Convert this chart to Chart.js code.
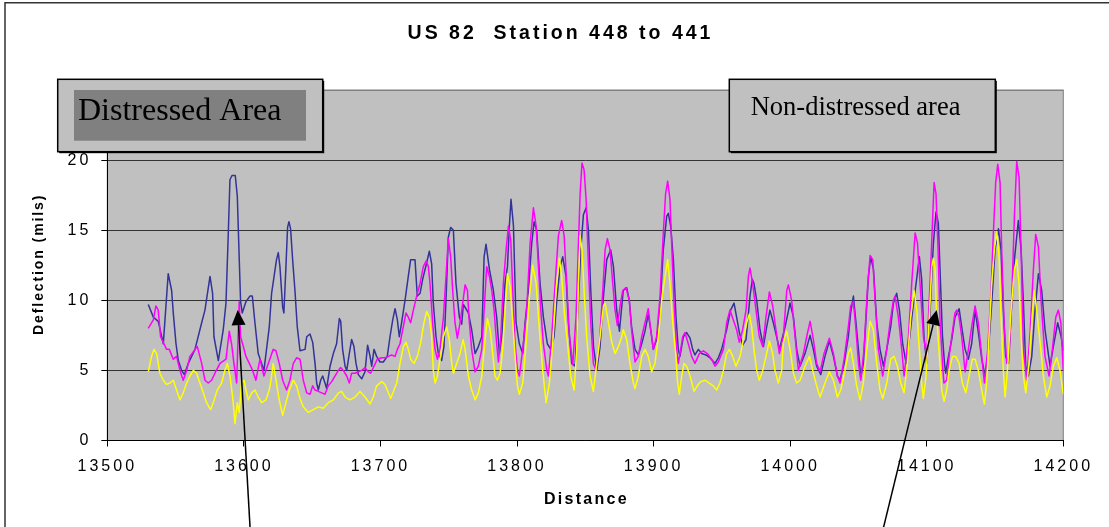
<!DOCTYPE html>
<html>
<head>
<meta charset="utf-8">
<title>US 82 Station 448 to 441</title>
<script src="https://cdn.jsdelivr.net/npm/chart.js@4.4.1/dist/chart.umd.min.js"></script>
<style>
  html, body { margin: 0; padding: 0; background: #fff; }
  canvas { display: block; }
</style>
</head>
<body>
<canvas id="deflection" width="1109" height="527"></canvas>
<script>
/* ===== READINGS: [distance, deflection (mils)] ===== */
const navyReadings = [
  [13530,9.7],[13533.7,8.8],[13537.3,8.5],[13541,6.9],[13544.6,11.9],[13547.1,10.7],[13548.3,9.1],[13550.3,6.9],
  [13552,5.7],[13554.4,5.0],[13556.4,4.7],[13559.3,5.5],[13564.2,6.5],[13569.1,8.4],[13571.5,9.3],[13575.2,11.7],
  [13577.1,10.5],[13578.1,7.4],[13581.3,5.7],[13584.9,7.9],[13586.9,9.8],[13588.6,14.8],[13589.8,18.6],[13591.3,18.9],
  [13593.7,18.9],[13595.2,17.4],[13596.4,13.6],[13597.6,9.9],[13598.8,9.1],[13601.5,9.9],[13604.4,10.3],[13606.2,10.3],
  [13608.1,8.4],[13610.5,6.2],[13613,5.5],[13614.7,5.0],[13618.6,8.1],[13620.3,10.5],[13623.9,12.9],[13625.2,13.4],
  [13626.4,12.4],[13628.4,9.5],[13629.3,9.1],[13630.8,12.4],[13632,15.2],[13633,15.6],[13634.2,15.1],[13635.7,12.9],
  [13637.4,10.7],[13639.1,8.1],[13641.1,6.4],[13644.8,6.5],[13646,7.4],[13648.4,7.6],[13650.4,7.0],[13652.1,5.5],
  [13653.3,4.1],[13654.5,3.6],[13656.2,4.3],[13657.7,4.6],[13659.4,4.1],[13660.6,3.7],[13663.1,5.3],[13665.5,6.2],
  [13667.9,6.9],[13669.9,8.7],[13670.9,8.5],[13672.3,6.5],[13674.1,5.3],[13675.3,5.0],[13677.2,6.2],[13678.9,7.2],
  [13680.6,6.7],[13682.1,5.5],[13683.8,4.7],[13686.3,4.4],[13688.7,4.9],[13690.6,6.8],[13692.4,6.0],[13693.6,5.3],
  [13695.3,6.5],[13697.2,6.0],[13699.7,5.6],[13702.1,5.6],[13705,6.0],[13707,7.4],[13709,8.6],[13710.7,9.4],
  [13712.4,8.6],[13713.8,7.4],[13715.5,8.4],[13718,10.0],[13720.4,11.7],[13722.1,12.9],[13725.3,12.9],[13727,10.3],
  [13729,10.5],[13730.9,11.5],[13733.4,12.5],[13735.8,13.5],[13737.5,12.6],[13738.7,9.8],[13740.7,7.4],[13742.4,6.2],
  [13744.8,5.7],[13746.5,6.7],[13748,10.0],[13749.7,14.5],[13751.4,15.2],[13753.4,15.0],[13755.3,11.2],[13757.8,8.8],
  [13759.5,8.3],[13760.7,9.7],[13764.4,9.1],[13766.8,7.9],[13769.3,6.2],[13771.7,6.7],[13774.2,7.4],[13775.9,13.1],
  [13777.3,14.0],[13779.8,12.2],[13782.7,10.7],[13785.1,8.8],[13787.1,6.2],[13788.8,7.4],[13791.2,11.2],[13793,12.4],
  [13794.4,15.3],[13795.6,17.2],[13797.4,15.3],[13799.3,8.4],[13801.7,6.9],[13804.2,6.2],[13805.9,8.4],[13808.3,10.7],
  [13810.8,14.1],[13812.5,15.6],[13814.4,15.0],[13816.9,11.2],[13819.3,8.8],[13822.2,6.9],[13824.7,6.5],[13827.1,7.4],
  [13829.1,10.0],[13831.5,12.4],[13833.5,13.1],[13835.9,11.7],[13837.6,8.4],[13840.1,5.5],[13842.5,5.3],[13845,10.0],
  [13846.7,13.6],[13848.6,16.1],[13850.6,16.6],[13852.3,15.0],[13854,10.7],[13856,6.7],[13858.4,5.0],[13860.8,6.7],
  [13863.3,10.3],[13865.7,12.9],[13868.6,13.6],[13870.6,12.4],[13873,9.3],[13875,7.8],[13877.8,10.7],[13880.3,10.9],
  [13882.2,10.0],[13883.9,8.1],[13886.4,6.5],[13888.8,6.1],[13891.3,6.9],[13893.7,7.8],[13896.1,9.0],[13897.9,7.9],
  [13899.8,6.5],[13902.2,7.2],[13904.7,9.3],[13907.1,13.6],[13909.6,16.0],[13910.8,16.2],[13912.5,15.3],[13914.5,12.9],
  [13916.4,8.8],[13918.1,6.5],[13919.3,6.0],[13921.8,7.4],[13924.2,7.7],[13926.7,7.3],[13928.6,6.5],[13930.3,6.1],
  [13932.8,6.5],[13935.2,6.2],[13938.4,6.1],[13941.3,5.9],[13945,5.5],[13947.4,5.9],[13949.8,6.5],[13953.5,7.9],
  [13956.4,9.3],[13958.9,9.8],[13960.8,8.8],[13962.8,7.7],[13965.2,6.8],[13967.7,7.2],[13970.6,10.3],[13972.3,11.5],
  [13973.5,11.2],[13975.5,10.0],[13977.9,7.9],[13980.4,6.7],[13982.8,8.1],[13985.2,9.3],[13987.7,8.4],[13990.1,7.4],
  [13992.1,6.5],[13996.3,8.1],[13999.9,9.8],[14002.4,8.8],[14004.8,6.5],[14007.2,5.3],[14010.9,6.2],[14014.6,7.5],
  [14017,6.5],[14019.4,5.3],[14022.4,4.7],[14025.5,6.0],[14028.7,7.1],[14031.7,6.0],[14034.6,4.6],[14036.5,4.3],
  [14039.5,5.5],[14042.6,7.4],[14044.3,9.1],[14046.3,10.3],[14048.2,8.4],[14050,6.5],[14051.7,4.5],[14053.6,5.5],
  [14055.6,8.8],[14057.3,11.7],[14059,13.1],[14061,12.2],[14063.4,8.4],[14065.8,6.5],[14068.3,5.3],[14070.7,6.5],
  [14073.6,8.1],[14075.6,9.8],[14078,10.5],[14080,9.3],[14082.4,6.9],[14084.9,5.5],[14087.3,7.2],[14089.7,9.3],
  [14092.2,11.2],[14094.6,13.1],[14096.3,11.5],[14098,7.4],[14100,5.5],[14102.4,9.1],[14104.9,14.1],[14106.8,16.3],
  [14108.5,15.5],[14110,11.5],[14111.5,7.5],[14113,5.5],[14113.9,4.8],[14115.9,6.0],[14118.3,7.2],[14120.7,8.8],
  [14123.7,9.4],[14125.6,8.1],[14128.1,6.5],[14130.5,5.8],[14132.9,6.9],[14135.4,9.3],[14137.8,7.7],[14140.3,5.8],
  [14142.7,4.6],[14145.2,6.5],[14147.6,9.8],[14150,13.6],[14152.5,15.1],[14154.4,13.6],[14156.1,9.3],[14157.8,6.0],
  [14159.8,5.5],[14161.7,8.8],[14164.2,12.9],[14167.1,15.7],[14169.1,13.6],[14170.8,9.8],[14172.5,5.3],[14174.4,4.6],
  [14176.9,6.0],[14179.3,9.3],[14181.8,11.9],[14184.2,10.7],[14186.6,7.9],[14190.3,5.3],[14192.7,6.7],[14195.9,8.4],
  [14198.4,7.4],[14200,6.4]
];

const magentaReadings = [
  [13530,8.0],[13533.7,8.6],[13535.6,9.6],[13537.3,9.3],[13539,7.4],[13541.5,6.9],[13543.4,6.5],[13545.4,6.5],
  [13548.3,5.8],[13550.7,6.0],[13553.2,5.0],[13555.6,4.3],[13558.1,5.0],[13560.5,6.0],[13564.2,6.5],[13565.9,6.7],
  [13569.1,5.5],[13571.5,4.3],[13573.9,4.1],[13576.4,4.3],[13578.8,4.8],[13582.5,5.5],[13586.9,5.8],[13589.3,7.8],
  [13591,6.9],[13592.7,5.5],[13594.7,4.1],[13596.6,9.9],[13597.6,7.4],[13599.6,6.7],[13601.5,6.0],[13604,5.5],
  [13606.4,5.0],[13608.8,4.3],[13611.8,5.8],[13614.7,4.6],[13617.9,5.5],[13621.5,6.5],[13623.5,6.4],[13625.9,5.5],
  [13628.4,4.3],[13631.3,3.6],[13633.7,4.3],[13636.2,5.5],[13638.6,5.9],[13641.1,5.8],[13643.5,4.3],[13646,3.4],
  [13648.4,3.3],[13650.4,3.9],[13652.1,3.6],[13654.5,3.5],[13657,3.4],[13659.4,3.3],[13661.8,3.9],[13664.3,4.2],
  [13666.7,4.6],[13669.2,5.0],[13670.9,5.2],[13672.8,5.0],[13675.3,4.6],[13677.2,4.1],[13678.9,4.8],[13681.4,4.8],
  [13683.8,4.9],[13686.3,5.0],[13688.7,5.2],[13691.1,4.9],[13692.8,4.8],[13694.8,5.2],[13697.7,5.8],[13700.9,5.9],
  [13703.3,5.9],[13705.8,6.0],[13708.2,6.1],[13710.7,6.0],[13712.4,6.5],[13714.3,6.9],[13716.3,7.9],[13718.7,9.1],
  [13720.4,8.8],[13722.1,8.4],[13724.1,9.3],[13726.5,10.3],[13729,11.2],[13731.4,12.4],[13733.4,12.8],[13735.1,12.4],
  [13736.3,11.2],[13738.2,8.4],[13740,6.5],[13741.7,5.8],[13743.6,6.5],[13746.1,8.8],[13748,11.7],[13749.7,14.4],
  [13751.4,13.1],[13752.9,10.7],[13754.6,8.4],[13756.3,7.3],[13758.3,8.4],[13760.5,10.0],[13762,11.1],[13763.7,10.7],
  [13765.1,8.4],[13766.8,6.5],[13769.3,4.9],[13771.7,5.3],[13774.2,6.5],[13775.9,9.3],[13777.8,12.4],[13779.8,11.7],
  [13781.5,10.7],[13783.2,9.3],[13785.1,6.9],[13786.4,5.6],[13788.1,7.4],[13790,11.2],[13792,13.6],[13793.7,15.3],
  [13795.4,14.3],[13796.9,10.7],[13798.6,6.9],[13800.3,5.0],[13801.7,4.6],[13804.2,6.5],[13807.1,9.3],[13809.6,14.1],
  [13812,16.6],[13814,15.3],[13815.7,12.4],[13817.4,9.3],[13819.3,6.9],[13821.8,5.0],[13823,4.6],[13825.4,7.4],
  [13827.9,11.2],[13830.3,14.6],[13832.7,15.7],[13834.5,14.6],[13836.4,11.2],[13838.4,7.4],[13840.8,5.4],[13843.2,8.8],
  [13845,14.1],[13846.2,17.6],[13847.6,19.8],[13849.1,19.3],[13850.6,17.2],[13852.3,12.4],[13854,8.4],[13855.9,5.5],
  [13857.9,5.0],[13860.3,6.9],[13862.8,10.7],[13864.5,13.6],[13866.2,14.4],[13868.1,13.6],[13870.1,11.2],[13871.8,9.3],
  [13873.5,8.2],[13875.5,9.6],[13877.4,10.7],[13879.8,10.9],[13882.2,10.0],[13883.9,7.9],[13886.4,5.6],[13888.8,6.0],
  [13891.3,7.4],[13893.7,8.4],[13896.1,9.4],[13897.9,7.9],[13899.8,6.5],[13902.2,7.4],[13904.7,10.3],[13907.1,14.8],
  [13908.8,17.6],[13910.3,18.5],[13912,17.2],[13913.2,14.1],[13914.9,10.0],[13916.9,6.5],[13918.1,5.5],[13919.3,6.2],
  [13921.3,7.4],[13923,7.7],[13925.4,6.9],[13927.9,6.0],[13930.3,5.5],[13933.5,6.2],[13936.4,6.4],[13939.4,6.2],
  [13942.5,5.8],[13945,5.3],[13947.4,5.6],[13951.1,6.5],[13953.5,8.4],[13955.9,9.3],[13958.4,8.6],[13960.8,7.9],
  [13962.8,7.0],[13965.2,7.9],[13967.7,9.3],[13969.4,11.7],[13970.6,12.3],[13972.5,11.2],[13975,9.3],[13977.4,7.4],
  [13979.9,6.7],[13982.3,8.8],[13984.8,10.6],[13987.2,9.6],[13989.6,7.9],[13992.1,6.2],[13995,7.4],[13997.5,10.7],
  [13998.7,11.1],[14001.1,10.0],[14003.6,7.4],[14006,5.0],[14009.7,6.2],[14012.1,7.4],[14014.6,8.5],[14017,7.2],
  [14019.4,5.5],[14021.9,4.9],[14024.8,6.2],[14028.7,7.3],[14031.7,6.2],[14034.6,4.6],[14036.5,4.1],[14039.5,5.8],
  [14042.6,8.1],[14044.3,9.6],[14046.3,9.9],[14048.2,7.9],[14050,5.5],[14051.7,4.3],[14054.1,6.5],[14056.5,10.7],
  [14058.5,13.2],[14060.5,12.9],[14062.2,10.0],[14064.6,6.5],[14067.8,4.6],[14070.7,6.5],[14073.1,8.4],[14075.6,10.0],
  [14076.8,10.3],[14079.2,8.8],[14081.7,6.5],[14083.4,4.6],[14086.6,7.4],[14089,11.2],[14091.5,14.8],[14093.2,14.1],
  [14095.1,11.2],[14097.6,7.4],[14100,6.0],[14102.4,11.2],[14104.4,16.0],[14105.4,18.4],[14106.8,17.6],[14108.3,13.6],
  [14109.8,8.4],[14111.7,5.3],[14112.6,4.1],[14114.6,4.3],[14116.4,6.0],[14118.3,7.4],[14120.7,9.1],[14122,9.3],
  [14123.7,8.8],[14125.6,7.4],[14128.1,4.9],[14130.5,6.5],[14132.9,8.1],[14135.4,9.6],[14137.8,8.4],[14140.3,6.0],
  [14142.2,4.1],[14144.7,6.5],[14147.1,10.7],[14148.8,14.8],[14150.5,18.4],[14152,19.7],[14153.7,18.4],[14154.9,13.6],
  [14156.6,8.4],[14158.6,5.5],[14160.3,6.0],[14162.2,10.0],[14164.2,16.0],[14165.9,19.9],[14167.6,18.8],[14169.1,13.6],
  [14170.8,6.5],[14173.2,4.3],[14175.7,7.7],[14178.1,12.2],[14179.8,14.7],[14181.8,13.8],[14183.7,10.0],[14186.6,6.0],
  [14189.6,4.6],[14192,6.5],[14194.5,8.8],[14196.4,9.3],[14198.2,8.4],[14200,5.0]
];

const yellowReadings = [
  [13530,4.9],[13532.4,6.0],[13534.2,6.5],[13536.1,6.2],[13538.5,4.8],[13541,4.3],[13543.4,4.0],[13545.9,4.1],
  [13548.3,4.3],[13550.7,3.6],[13553.2,2.9],[13555.6,3.4],[13558.1,4.1],[13560.5,4.6],[13563,5.0],[13565.4,4.8],
  [13567.8,4.1],[13570.3,3.4],[13572.7,2.7],[13575.6,2.2],[13577.6,2.7],[13580.5,3.6],[13583.7,4.1],[13586.1,5.0],
  [13587.9,5.5],[13589.8,4.6],[13591.8,3.1],[13593.5,1.2],[13595.2,2.7],[13596.6,2.0],[13598.3,4.1],[13600.1,4.3],
  [13601.5,3.6],[13603.2,2.9],[13605.7,3.4],[13608.1,3.6],[13610.5,3.1],[13613,2.7],[13616.2,2.9],[13618.6,3.6],
  [13620.3,4.6],[13621.5,5.5],[13623.5,4.3],[13625.9,2.9],[13628.4,1.8],[13630.8,2.7],[13633.3,3.6],[13636.2,4.3],
  [13638.6,3.9],[13641.1,3.0],[13643.5,2.4],[13647.2,2.0],[13650.9,2.2],[13654.5,2.4],[13658.2,2.3],[13661.8,2.7],
  [13665.5,2.9],[13669.2,3.4],[13671.6,3.5],[13674.1,3.1],[13677.7,2.9],[13681.4,3.1],[13685,3.5],[13688.7,3.1],
  [13692.4,2.6],[13694.8,3.1],[13697.2,3.9],[13700.9,4.2],[13703.3,4.0],[13705.8,3.4],[13707.5,3.0],[13709.9,3.6],
  [13711.9,4.1],[13714.3,5.5],[13716.8,6.7],[13718.7,7.0],[13720.4,6.5],[13722.1,5.8],[13724.6,5.5],[13727,6.0],
  [13729.5,7.0],[13731.9,8.4],[13733.9,9.2],[13735.8,8.8],[13737.5,7.4],[13738.7,5.0],[13740,4.1],[13741.7,4.6],
  [13743.6,5.8],[13746.1,7.4],[13748.5,8.1],[13750.4,7.2],[13752.2,5.5],[13753.4,4.8],[13755.8,5.5],[13758.3,6.2],
  [13760.5,7.2],[13762,6.5],[13764.4,4.6],[13766.8,3.6],[13769.3,2.9],[13771.7,3.4],[13774.2,4.6],[13776.6,7.2],
  [13778.3,8.7],[13780.3,7.9],[13782.2,6.2],[13783.9,4.6],[13785.6,4.3],[13787.6,4.8],[13789.5,6.5],[13791.3,9.3],
  [13793,11.9],[13794.9,11.0],[13796.9,8.4],[13798.6,6.0],[13800.3,3.9],[13801.7,3.3],[13804.2,4.1],[13806.6,6.9],
  [13809.1,10.3],[13811.5,12.5],[13814,11.2],[13816.4,7.9],[13818.8,5.0],[13821.3,2.7],[13823.7,4.1],[13826.2,7.0],
  [13828.6,10.7],[13831,13.0],[13832.7,11.7],[13834.5,9.3],[13836.9,7.0],[13839.3,4.6],[13841.8,3.6],[13843.7,6.5],
  [13845,11.2],[13846.2,14.6],[13847.6,13.6],[13849.1,10.7],[13851,7.4],[13853.5,4.6],[13855.9,3.5],[13858.4,5.5],
  [13860.8,7.4],[13863.3,9.6],[13864.5,9.8],[13866.9,8.4],[13869.4,7.0],[13871.8,6.2],[13874.2,6.7],[13876.7,7.4],
  [13877.8,7.9],[13880.3,7.2],[13882.7,5.5],[13885.2,4.1],[13886.4,3.7],[13888.8,4.6],[13891.3,6.0],[13893.7,6.5],
  [13896.1,6.0],[13898.6,4.9],[13901,5.5],[13903.5,7.4],[13905.9,10.0],[13908.4,11.7],[13910.3,12.9],[13912,11.2],
  [13914,8.4],[13916.4,6.0],[13917.4,4.3],[13918.8,3.3],[13920.6,4.6],[13922.3,5.5],[13924.2,5.3],[13926.7,4.6],
  [13929.6,3.5],[13932,3.9],[13934.5,4.2],[13937.6,4.3],[13940.8,4.1],[13943.7,3.9],[13946.2,3.6],[13948.6,4.1],
  [13951.1,5.0],[13953.5,6.2],[13955.5,6.5],[13957.9,6.0],[13960.3,5.3],[13963.3,6.0],[13965.7,7.2],[13968.2,8.4],
  [13970.1,9.0],[13971.8,8.1],[13973.5,6.5],[13975.5,5.0],[13977.4,4.3],[13979.9,5.0],[13982.3,6.0],[13984.8,7.1],
  [13987.2,6.2],[13988.9,5.0],[13991.3,4.1],[13993.8,5.0],[13995,7.0],[13997.5,7.8],[13999.9,6.5],[14002.4,4.8],
  [14004.8,4.1],[14007.2,4.3],[14010.9,5.3],[14014.1,6.0],[14016.5,5.0],[14019.4,3.9],[14021.9,3.1],[14025.5,4.1],
  [14028.7,4.9],[14031.7,4.3],[14034.6,3.1],[14037,3.6],[14040.2,5.0],[14042.6,6.2],[14044.3,6.6],[14046.3,5.5],
  [14048.7,3.9],[14051.2,2.9],[14053.6,4.1],[14056.1,6.5],[14058.5,8.5],[14060.9,7.9],[14063.4,5.5],[14065.8,3.6],
  [14067.8,3.0],[14070.7,4.1],[14073.6,5.8],[14076.1,6.0],[14078.5,5.3],[14081,4.1],[14083.4,3.4],[14085.8,5.5],
  [14088.3,8.8],[14090.7,10.7],[14092.7,9.3],[14094.6,6.5],[14096.3,4.1],[14097.5,3.0],[14099.5,4.6],[14101.9,8.8],
  [14103.7,12.4],[14104.9,13.0],[14106.1,12.2],[14107.3,8.8],[14109.3,6.0],[14111,3.6],[14112.7,2.8],[14114.6,3.6],
  [14116.4,5.0],[14118.8,6.0],[14121.2,6.0],[14123.7,5.5],[14126.1,4.1],[14128.6,3.4],[14131,4.6],[14133.4,5.8],
  [14135.4,5.8],[14137.8,5.0],[14140.3,3.6],[14142.2,2.6],[14143.9,4.1],[14145.6,7.4],[14147.6,11.2],[14149.5,13.6],
  [14151.3,14.9],[14153,13.1],[14154.4,8.8],[14156.1,5.0],[14157.4,3.1],[14159.3,5.3],[14161.7,9.3],[14164.2,12.2],
  [14165.9,12.9],[14167.6,11.2],[14169.1,7.4],[14170.8,4.6],[14172.5,3.4],[14174.9,5.5],[14176.9,8.4],[14178.6,10.7],
  [14180.5,9.3],[14183,7.0],[14185.4,4.6],[14187.9,3.1],[14190.3,3.9],[14192.7,5.3],[14195.2,5.9],[14197.6,5.0],
  [14200,3.3]
];

const distanceTicks = [13500, 13600, 13700, 13800, 13900, 14000, 14100, 14200];
const deflectionTicks = [0, 5, 10, 15, 20, 25];

const chartTitle = 'US 82  Station 448 to 441';
const xTitle = 'Distance';
const yTitle = 'Deflection (mils)';

/* ===== CALLOUTS ===== */
const callouts = [
  { text: 'Distressed Area', x: 57.7, y: 79.3, w: 265, h: 72.4, size: 32,
    tx: 78, ty: 120, inner: { x: 74, y: 90, w: 232, h: 50.7 } },
  { text: 'Non-distressed area', x: 729.3, y: 79.3, w: 266, h: 72.4, size: 26.5,
    tx: 750.7, ty: 115 }
];

// arrow tips sit on the plot, tails run off the bottom edge
const arrows = [
  { from: [13604.7, -6.5], to: [13595.5, 9.3] },
  { from: [14067.6, -6.5], to: [14107.3, 9.3] }
];

const SANS = 'Arial, "Liberation Sans", sans-serif';
const SERIF = '"Times New Roman", "Liberation Serif", serif';

/* ===== HELPERS ===== */
function spacedText(ctx, text, x, y, font, spacing, align) {
  ctx.save();
  ctx.font = font;
  ctx.letterSpacing = spacing + 'px';
  ctx.fillStyle = '#000';
  ctx.textAlign = 'left';
  ctx.textBaseline = 'alphabetic';
  let left = x;
  if (align === 'center') left = x - (ctx.measureText(text).width - spacing) / 2;
  ctx.fillText(text, left, y);
  ctx.restore();
}

function drawCallout(ctx, b) {
  ctx.save();
  ctx.fillStyle = '#000';
  ctx.fillRect(b.x + 1.5, b.y + 1.5, b.w, b.h);
  ctx.fillStyle = '#c0c0c0';
  ctx.fillRect(b.x, b.y, b.w, b.h);
  ctx.lineWidth = 1.5;
  ctx.strokeStyle = '#000';
  ctx.strokeRect(b.x, b.y, b.w, b.h);
  if (b.inner) {
    ctx.fillStyle = '#808080';
    ctx.fillRect(b.inner.x, b.inner.y, b.inner.w, b.inner.h);
  }
  ctx.restore();
  spacedText(ctx, b.text, b.tx, b.ty, b.size + 'px ' + SERIF, 0, 'left');
}

function drawArrow(ctx, x0, y0, x1, y1) {
  const ang = Math.atan2(y1 - y0, x1 - x0);
  const len = 15, half = 7;
  const bx = x1 - len * Math.cos(ang), by = y1 - len * Math.sin(ang);
  ctx.save();
  ctx.strokeStyle = '#000';
  ctx.fillStyle = '#000';
  ctx.lineWidth = 1.5;
  ctx.beginPath();
  ctx.moveTo(x0, y0);
  ctx.lineTo(bx, by);
  ctx.stroke();
  ctx.beginPath();
  ctx.moveTo(x1, y1);
  ctx.lineTo(bx + half * Math.sin(ang), by - half * Math.cos(ang));
  ctx.lineTo(bx - half * Math.sin(ang), by + half * Math.cos(ang));
  ctx.closePath();
  ctx.fill();
  ctx.restore();
}

/* ===== PLUGIN: sheet frame, plot fill, titles, callouts ===== */
const sheetDecor = {
  id: 'sheetDecor',
  beforeDraw(chart) {
    const { ctx, chartArea: a } = chart;
    ctx.save();
    ctx.fillStyle = '#fff';
    ctx.fillRect(0, 0, chart.width, chart.height);
    ctx.strokeStyle = '#333';
    ctx.lineWidth = 1.5;
    ctx.beginPath();
    ctx.moveTo(5, chart.height + 5);
    ctx.lineTo(5, 2.7);
    ctx.lineTo(chart.width + 5, 2.7);
    ctx.stroke();
    ctx.fillStyle = '#c0c0c0';
    ctx.fillRect(a.left, a.top, a.right - a.left, a.bottom - a.top);
    ctx.strokeStyle = '#808080';
    ctx.lineWidth = 1;
    ctx.strokeRect(a.left, a.top, a.right - a.left, a.bottom - a.top);
    ctx.restore();
    // tick labels are widely spaced
    ctx.letterSpacing = '3px';
  },
  afterDraw(chart) {
    const { ctx, chartArea: a, scales } = chart;
    ctx.letterSpacing = '0px';

    spacedText(ctx, chartTitle, 559, 39.3, 'bold 19.5px ' + SANS, 3, 'center');
    spacedText(ctx, xTitle, (a.left + a.right) / 2, 503.5, 'bold 16px ' + SANS, 2.3, 'center');

    ctx.save();
    ctx.translate(42.5, (a.top + a.bottom) / 2);
    ctx.rotate(-Math.PI / 2);
    spacedText(ctx, yTitle, 0, 0, 'bold 14px ' + SANS, 1.9, 'center');
    ctx.restore();

    callouts.forEach(b => drawCallout(ctx, b));

    arrows.forEach(ar => {
      drawArrow(ctx,
        scales.x.getPixelForValue(ar.from[0]), scales.y.getPixelForValue(ar.from[1]),
        scales.x.getPixelForValue(ar.to[0]), scales.y.getPixelForValue(ar.to[1]));
    });
  }
};

const toPoints = rows => rows.map(r => ({ x: r[0], y: r[1] }));

const lineStyle = { borderWidth: 1.5, pointRadius: 0, tension: 0, fill: false, borderJoinStyle: 'round' };

new Chart(document.getElementById('deflection'), {
  type: 'line',
  data: {
    datasets: [
      { label: 'Series 1', data: toPoints(navyReadings), borderColor: '#333399', order: 3, ...lineStyle },
      { label: 'Series 2', data: toPoints(magentaReadings), borderColor: '#ff00ff', order: 2, ...lineStyle },
      { label: 'Series 3', data: toPoints(yellowReadings), borderColor: '#ffff00', order: 1, ...lineStyle }
    ]
  },
  options: {
    responsive: false,
    animation: false,
    parsing: false,
    layout: { padding: { top: 90, right: 45.7, bottom: 0, left: 0 } },
    plugins: { legend: { display: false }, tooltip: { enabled: false }, title: { display: false } },
    scales: {
      x: {
        type: 'linear',
        min: 13500,
        max: 14200,
        afterBuildTicks: s => { s.ticks = distanceTicks.map(v => ({ value: v })); },
        afterFit: s => { s.height = 86.5; },
        grid: { drawOnChartArea: false, drawTicks: true, tickLength: 6, tickColor: '#000' },
        border: { color: '#000', width: 1 },
        ticks: { color: '#000', padding: 10, maxRotation: 0, autoSkip: false,
                 font: { family: SANS, size: 16 }, callback: v => String(v) }
      },
      y: {
        min: 0,
        max: 25,
        afterBuildTicks: s => { s.ticks = deflectionTicks.map(v => ({ value: v })); },
        afterFit: s => { s.width = 107.3; },
        grid: {
          color: c => (c.tick && c.tick.value === 25 ? '#808080' : '#333'),
          tickLength: 6, tickColor: '#000'
        },
        border: { color: '#000', width: 1 },
        ticks: { color: '#000', padding: 10, font: { family: SANS, size: 16 }, callback: v => String(v) }
      }
    }
  },
  plugins: [sheetDecor]
});
</script>
</body>
</html>
